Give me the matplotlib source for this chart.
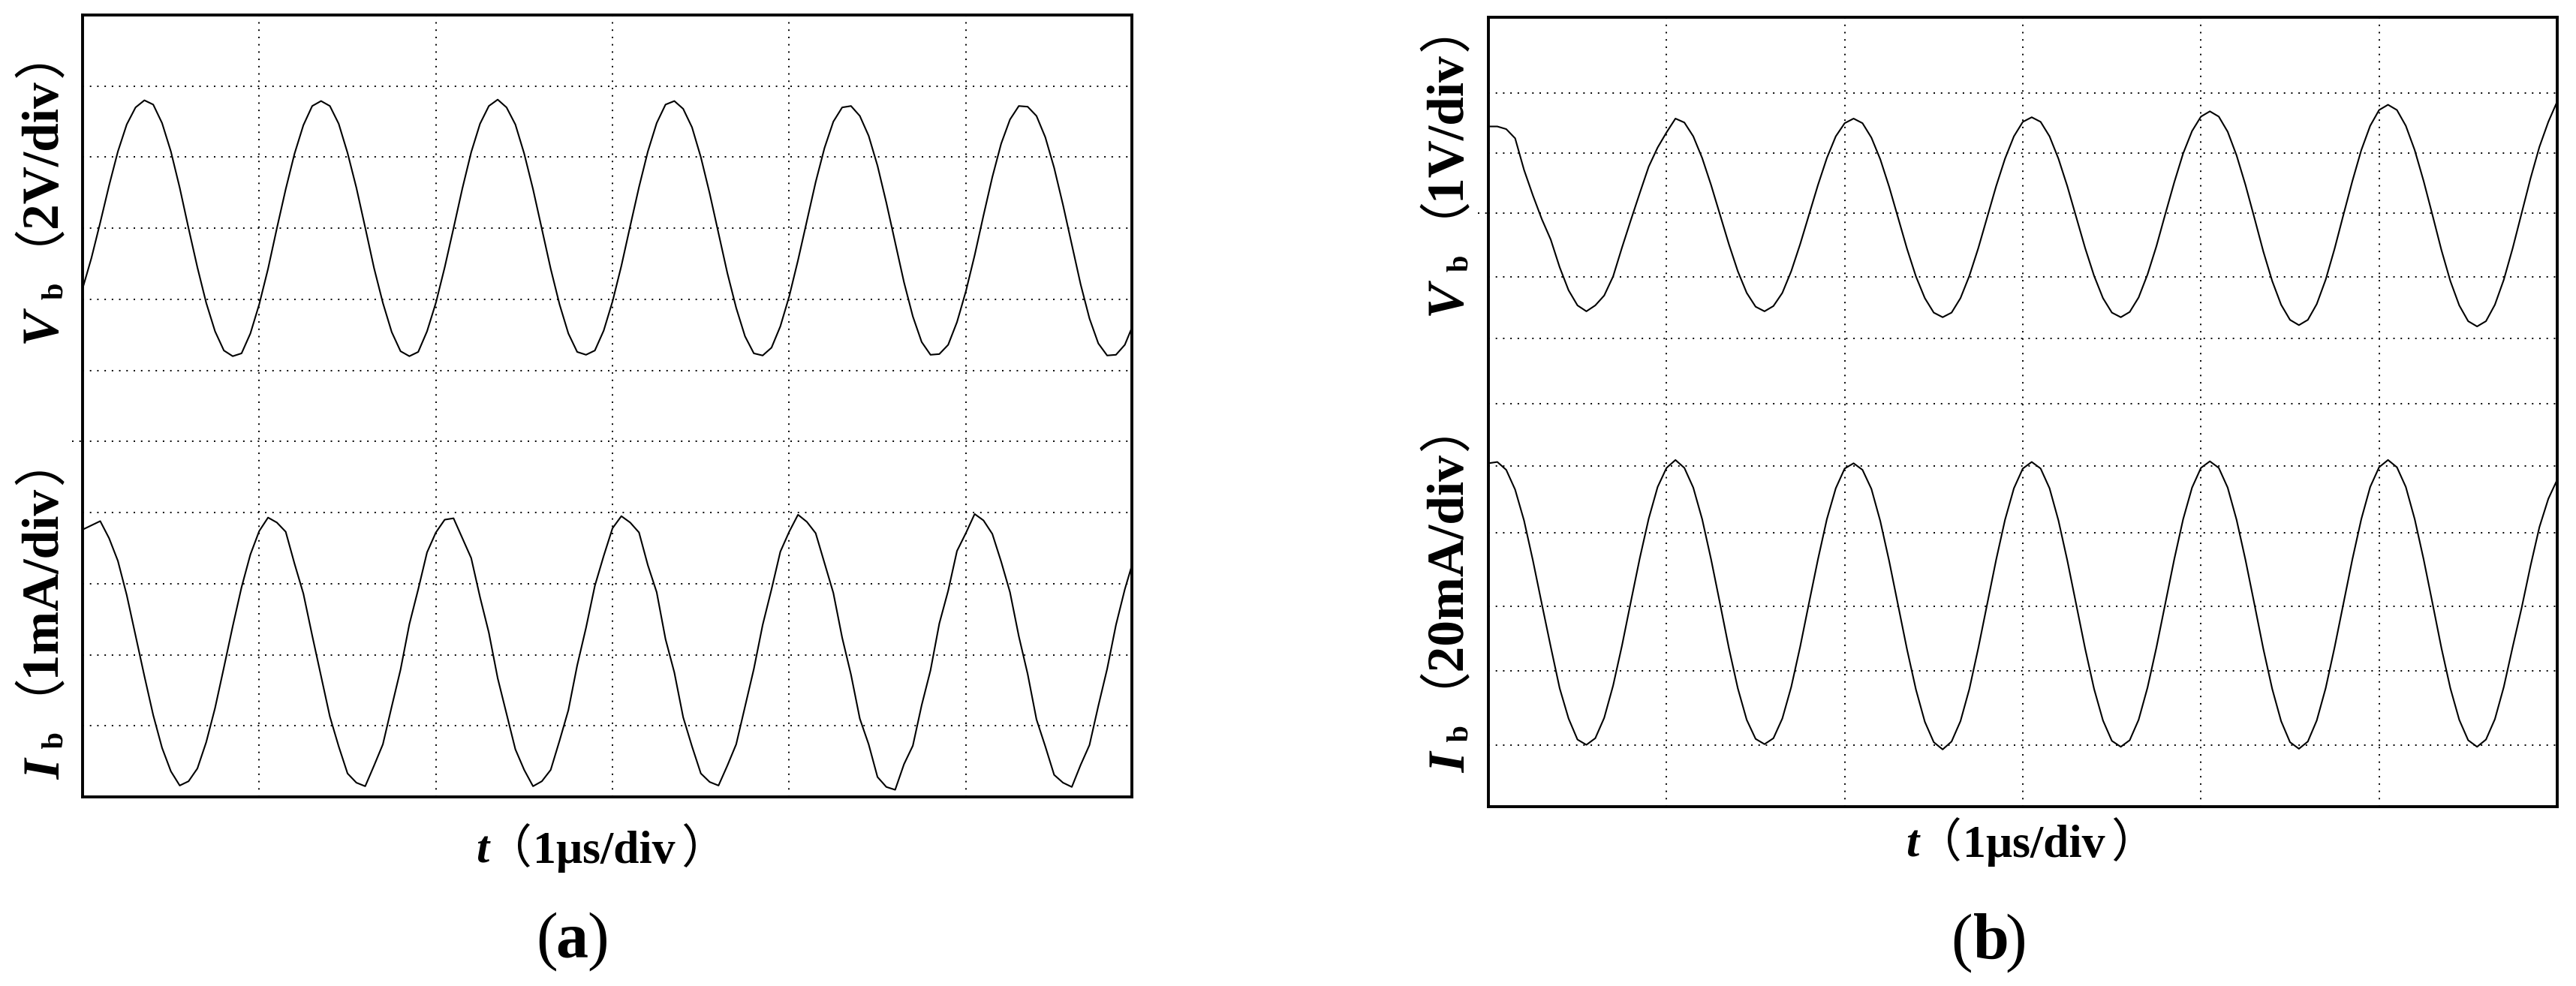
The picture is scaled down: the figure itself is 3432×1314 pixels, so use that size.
import numpy as np
import matplotlib
matplotlib.use("Agg")
import matplotlib.pyplot as plt
from matplotlib import patheffects
from matplotlib.figure import Figure
from matplotlib.backends.backend_agg import FigureCanvasAgg
from matplotlib.transforms import IdentityTransform

# ---------------- data (in scope divisions, sampled every 0.05 div = 0.05 us) ----------------
SAMPLE_DT = 0.05

# panel (a): Vb (2V/div) and Ib (1mA/div)
va = [7.15, 7.58, 8.08, 8.60, 9.08, 9.46, 9.70, 9.80, 9.74, 9.48, 9.08, 8.57, 8.00, 7.45, 6.95, 6.55, 6.28, 6.20, 6.24, 6.52,
      6.93, 7.43, 8.00, 8.55, 9.05, 9.45, 9.72, 9.79, 9.72, 9.47, 9.06, 8.57, 8.01, 7.44, 6.95, 6.54, 6.27, 6.20, 6.26, 6.55,
      6.95, 7.45, 8.00, 8.56, 9.07, 9.47, 9.72, 9.81, 9.70, 9.46, 9.05, 8.55, 7.99, 7.43, 6.93, 6.52, 6.26, 6.22, 6.28, 6.56,
      6.97, 7.47, 8.03, 8.58, 9.08, 9.48, 9.74, 9.79, 9.68, 9.42, 9.00, 8.49, 7.93, 7.37, 6.88, 6.48, 6.24, 6.21, 6.32, 6.62,
      7.04, 7.55, 8.10, 8.65, 9.13, 9.50, 9.70, 9.72, 9.58, 9.30, 8.88, 8.36, 7.80, 7.24, 6.76, 6.40, 6.22, 6.23, 6.36, 6.68,
      7.11, 7.62, 8.18, 8.72, 9.19, 9.53, 9.72, 9.71, 9.58, 9.28, 8.85, 8.33, 7.77, 7.21, 6.73, 6.38, 6.21, 6.22, 6.36, 6.66]

ia = [3.76, 3.82, 3.88, 3.64, 3.32, 2.84, 2.27, 1.70, 1.15, 0.69, 0.36, 0.16, 0.22, 0.40, 0.77, 1.25, 1.82, 2.40, 2.95, 3.41,
      3.74, 3.93, 3.86, 3.73, 3.28, 2.86, 2.27, 1.70, 1.13, 0.71, 0.33, 0.20, 0.15, 0.44, 0.74, 1.27, 1.79, 2.43, 2.92, 3.44,
      3.72, 3.90, 3.92, 3.64, 3.36, 2.81, 2.31, 1.67, 1.17, 0.67, 0.38, 0.15, 0.22, 0.38, 0.79, 1.22, 1.85, 2.38, 2.97, 3.39,
      3.78, 3.95, 3.86, 3.72, 3.26, 2.88, 2.22, 1.75, 1.12, 0.71, 0.33, 0.21, 0.16, 0.44, 0.74, 1.27, 1.80, 2.42, 2.92, 3.45,
      3.73, 3.97, 3.87, 3.71, 3.29, 2.87, 2.24, 1.72, 1.10, 0.74, 0.28, 0.14, 0.10, 0.46, 0.72, 1.29, 1.78, 2.44, 2.90, 3.46,
      3.71, 3.98, 3.89, 3.70, 3.31, 2.88, 2.26, 1.73, 1.09, 0.71, 0.31, 0.20, 0.14, 0.45, 0.73, 1.28, 1.80, 2.42, 2.92, 3.34]

# panel (b): Vb (1V/div) and Ib (20mA/div)
vb = [10.34, 10.34, 10.30, 10.16, 9.68, 9.29, 8.93, 8.62, 8.20, 7.85, 7.62, 7.53,
      7.62, 7.77, 8.06, 8.50, 8.92, 9.33, 9.73, 10.02, 10.25, 10.46,
      10.40, 10.19, 9.86, 9.45, 9.00, 8.55, 8.14, 7.81, 7.60, 7.53,
      7.61, 7.81, 8.14, 8.55, 9.00, 9.45, 9.86, 10.19, 10.39, 10.46,
      10.39, 10.17, 9.84, 9.42, 8.95, 8.48, 8.06, 7.73, 7.51, 7.44,
      7.51, 7.73, 8.07, 8.49, 8.96, 9.43, 9.85, 10.19, 10.41, 10.48,
      10.41, 10.19, 9.85, 9.43, 8.96, 8.49, 8.07, 7.73, 7.51, 7.44,
      7.52, 7.74, 8.09, 8.52, 9.01, 9.49, 9.93, 10.27, 10.49, 10.57,
      10.49, 10.26, 9.90, 9.45, 8.95, 8.44, 7.99, 7.63, 7.40, 7.32,
      7.40, 7.64, 8.01, 8.48, 9.00, 9.51, 9.98, 10.35, 10.59, 10.67,
      10.59, 10.35, 9.98, 9.51, 8.99, 8.46, 7.99, 7.62, 7.38, 7.30,
      7.38, 7.63, 8.01, 8.49, 9.02, 9.55, 10.03, 10.41, 10.72]

ib = [5.22, 5.24, 5.12, 4.82, 4.35, 3.74, 3.08, 2.43, 1.80, 1.34, 1.02, 0.94, 1.04, 1.35, 1.84, 2.45, 3.12, 3.78, 4.38, 4.86, 5.15, 5.27,
      5.15, 4.85, 4.37, 3.76, 3.09, 2.41, 1.80, 1.32, 1.03, 0.95, 1.04, 1.34, 1.82, 2.43, 3.10, 3.76, 4.37, 4.84, 5.14, 5.22,
      5.12, 4.83, 4.34, 3.73, 3.06, 2.39, 1.78, 1.29, 0.98, 0.87, 0.99, 1.30, 1.79, 2.41, 3.08, 3.75, 4.36, 4.84, 5.14, 5.24,
      5.14, 4.84, 4.35, 3.74, 3.07, 2.40, 1.79, 1.31, 1.00, 0.91, 1.01, 1.32, 1.81, 2.42, 3.09, 3.76, 4.37, 4.85, 5.15, 5.25,
      5.15, 4.85, 4.36, 3.75, 3.08, 2.40, 1.79, 1.30, 0.98, 0.88, 0.99, 1.31, 1.80, 2.42, 3.09, 3.76, 4.37, 4.86, 5.16, 5.27,
      5.16, 4.86, 4.37, 3.76, 3.09, 2.41, 1.80, 1.32, 1.01, 0.91, 1.02, 1.33, 1.82, 2.43, 3.02, 3.66, 4.25, 4.68, 4.97]

# grid divisions
xgrid_a = [1, 2, 3, 4, 5]
ygrid_a = [1, 2, 3, 4, 5, 6, 7, 8, 9, 10]
xgrid_b = [1, 2, 3, 4, 5]
ygrid_b = [0.94, 2.06, 3.05, 4.16, 5.18, 6.13, 7.12, 8.05, 9.02, 9.93, 10.85]

# label texts
ylab_a = [("V", "b", "2V/div"), ("I", "b", "1mA/div")]
ylab_b = [("V", "b", "1V/div"), ("I", "b", "20mA/div")]
xlab = ("t", "1μs/div")
panel_letters = ["a", "b"]

# ---------------- figure ----------------
W, H = 3432, 1314
fig = plt.figure(figsize=(W / 100, H / 100), dpi=100)
fig.patch.set_facecolor("white")


def axes_px(l, t, r, b):
    return fig.add_axes([l / W, 1 - b / H, (r - l) / W, (b - t) / H])


DOT = (0, (1, 4.0))


def scope(ax, xmax, ymax, xg, yg, mark_y):
    ax.set_xlim(0, xmax)
    ax.set_ylim(0, ymax)
    ax.set_xticks([])
    ax.set_yticks([])
    for s in ax.spines.values():
        s.set_linewidth(2.8)
        s.set_color("black")
        s.set_zorder(5)
    for x in xg:
        ax.axvline(x, color="black", lw=1.4, ls=DOT, zorder=1)
    for y in yg:
        ax.axhline(y, color="black", lw=1.4, ls=DOT, zorder=1)
    ax.plot([-0.06, 0], [mark_y, mark_y], color="black", lw=1.4, ls=DOT, clip_on=False)


axa = axes_px(110, 20, 1508, 1062)
axb = axes_px(1983, 23, 3407, 1075)
scope(axa, 5.94, 11, xgrid_a, ygrid_a, 5)
scope(axb, 6.0, 12, xgrid_b, ygrid_b, 9.02)

ta = np.arange(len(va)) * SAMPLE_DT
tb = np.arange(len(vb)) * SAMPLE_DT
for ax, t, ys in [(axa, ta, va), (axa, ta, ia), (axb, tb, vb), (axb, tb, ib)]:
    ax.plot(t, ys, color="black", lw=1.5, zorder=3)

# ---------------- text set from pieces, positioned by measured ink ----------------
ID = IdentityTransform()
SERIF = ["Liberation Serif", "DejaVu Serif"]
CJK = ["Noto Sans CJK SC", "DejaVu Sans"]


def sty(kind, size, rotated=False):
    d = {"bi": dict(family=SERIF, weight="bold", style="italic"),
         "b": dict(family=SERIF, weight="bold"),
         "r": dict(family=SERIF),
         "c": dict(family=CJK)}[kind]
    d = dict(d, fontsize=size)
    if rotated:
        d["path_effects"] = [patheffects.Normal()]
    return d


def ink_extent(s, props, rotation):
    f = Figure(figsize=(10, 10), dpi=100)
    FigureCanvasAgg(f)
    f.text(500, 500, s, transform=IdentityTransform(), rotation=rotation, rotation_mode="anchor",
           ha="left", va="baseline", color="black", **props)
    f.canvas.draw()
    a = np.asarray(f.canvas.buffer_rgba())[:, :, 0]
    rows, cols = np.nonzero(a < 150)
    x0 = cols.min() - 500
    x1 = cols.max() + 1 - 500
    y0 = (1000 - rows.max() - 1) - 500
    y1 = (1000 - rows.min()) - 500
    return x0, x1, y0, y1


def place_h(pieces, cx, baseline):
    """pieces: (text, props, gap_before_px). cx: ink centre x, baseline: image y."""
    exts = [ink_extent(s, p, 0) for s, p, g in pieces]
    cur, anchors = 0.0, []
    for (s, p, g), e in zip(pieces, exts):
        cur += g
        a_ = cur - e[0]
        anchors.append(a_)
        cur = a_ + e[1]
    off = cx - cur / 2
    for (s, p, g), a_ in zip(pieces, anchors):
        fig.text(off + a_, H - baseline, s, transform=ID, ha="left", va="baseline", **p)


def place_v(pieces, base_x, center_x, cy):
    """vertical (reading upwards). pieces: (text, props, gap_before_px, mode, shift).
    mode 'base': ink bottom (right edge) at base_x+shift; 'mid': ink centred at center_x."""
    exts = [ink_extent(s, p, 90) for s, p, g, m, sh in pieces]
    cur, anchors = 0.0, []
    for (s, p, g, m, sh), e in zip(pieces, exts):
        cur += g
        a_ = cur - e[2]
        anchors.append(a_)
        cur = a_ + e[3]
    off = (H - cy) - cur / 2
    for (s, p, g, m, sh), e, a_ in zip(pieces, exts, anchors):
        if m == "base":
            x = base_x + sh - e[1]
        else:
            x = center_x - (e[0] + e[1]) / 2
        fig.text(x, off + a_, s, rotation=90, rotation_mode="anchor", ha="left", va="baseline",
                 transform=ID, **p)


YS, YSUB = 50, 29
XS = 44.5
PS = 62


def ylabel(lab, base_x, cy):
    sym, sub, unit = lab
    place_v([(sym, sty("bi", YS, True), 0, "base", 0),
             (sub, sty("b", YSUB, True), 11, "base", 5),
             ("（", sty("c", YS, True), 52, "mid", 0),
             (unit, sty("b", YS, True), 5, "base", 0),
             ("）", sty("c", YS, True), 6, "mid", 0)],
            base_x, base_x - 25, cy)


ylabel(ylab_a[0], 78, 272)
ylabel(ylab_a[1], 78, 834)
ylabel(ylab_b[0], 1950, 236)
ylabel(ylab_b[1], 1950, 807)

for cx, by in [(782, 1150), (2687, 1142)]:
    place_h([(xlab[0], sty("bi", XS), 0),
             ("（", sty("c", XS), 36),
             (xlab[1], sty("b", XS), 9),
             ("）", sty("c", XS), 11)], cx, by)

for letter, cx, by in [(panel_letters[0], 764, 1275), (panel_letters[1], 2651, 1277)]:
    place_h([("(", sty("r", PS), 0), (letter, sty("b", PS), 3), (")", sty("r", PS), 3)], cx, by)

fig.savefig("out.png", dpi=100, facecolor="white")
